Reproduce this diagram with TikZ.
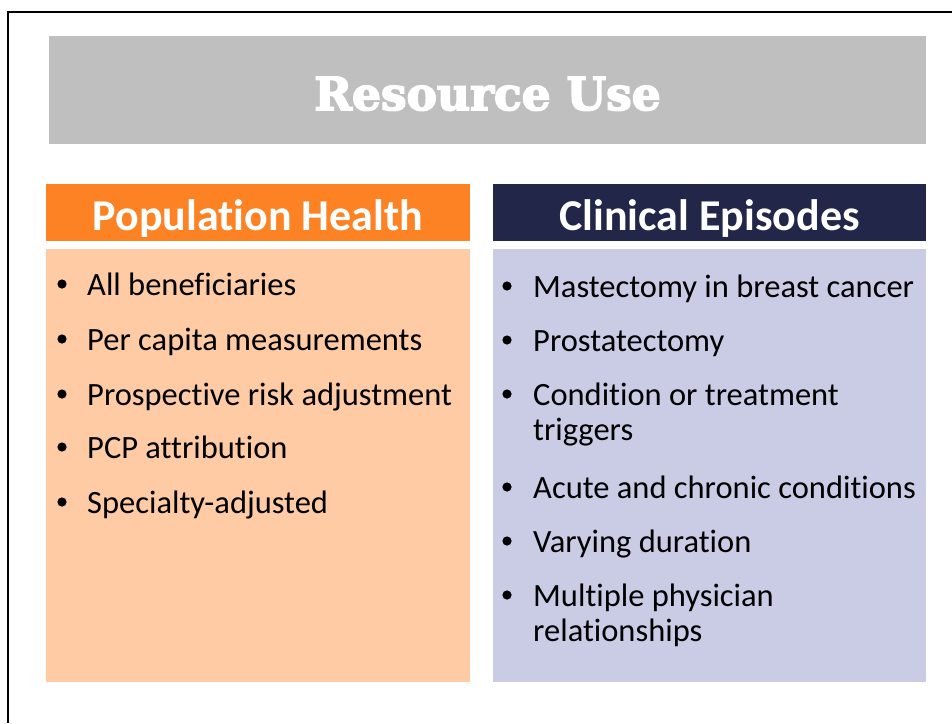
\documentclass[tikz,border=0pt]{standalone}
\usepackage{fontspec}
\setmainfont{Carlito}[Ligatures=NoCommon]
\newfontfamily\slabfont{DejaVu Serif}
\usetikzlibrary{positioning}
\definecolor{titlegray}{HTML}{BFBFBF}
\definecolor{popdark}{HTML}{FD8223}
\definecolor{poplight}{HTML}{FECBA4}
\definecolor{epidark}{HTML}{222648}
\definecolor{epilight}{HTML}{C9CCE4}
\newcommand{\heavytext}[1]{\special{pdf:literal direct 1.6 w 2 Tr}#1\special{pdf:literal direct 0 Tr}}
\tikzset{panel/.style={rectangle, inner sep=0pt, anchor=north west}}
\tikzset{head/.style={anchor=base, text=white, inner sep=0pt, font=\bfseries\fontsize{44}{48}\selectfont}}
\tikzset{item/.style={anchor=base west, inner sep=0pt, font=\fontsize{32.5}{36}\selectfont}}

\begin{document}
\begin{tikzpicture}[x=1pt,y=-1pt]
    \useasboundingbox (0,0) rectangle (952,723);
    \fill[white] (0,0) rectangle (952,723);
    \draw[line width=2.6pt] (8,723) |- (952,12);
    % title bar
    \node[panel, fill=titlegray, minimum width=877pt, minimum height=108pt] (title) at (49,36) {};
    \node[anchor=base, text=white, inner sep=0pt, font=\slabfont\bfseries\fontsize{45.5}{50}\selectfont] (titletext) at (487.5,110) {\heavytext{Resource Use}};
    % two columns
    \node[panel, fill=popdark, minimum width=424pt, minimum height=57pt] (pophead) at (46,184) {};
    \node[panel, fill=poplight, minimum width=424pt, minimum height=433pt] (popbody) at (46,249) {};
    \node[panel, fill=epidark, minimum width=433pt, minimum height=57pt] (epihead) at (493,184) {};
    \node[panel, fill=epilight, minimum width=433pt, minimum height=433pt] (epibody) at (493,249) {};
    \node[head] (poptext) at (258,230) {Population Health};
    \node[head] (epitext) at (709.5,230) {Clinical Episodes};
    \foreach \y/\lab/\tx in {
      295/a/All beneficiaries,
      350/b/Per capita measurements,
      405/c/Prospective risk adjustment,
      458/d/PCP attribution,
      513/e/Specialty-adjusted%
    } {
      \fill (62,{\y-11}) circle (4.6pt);
      \node[item] (pop\lab) at (87,\y) {\tx};
    }
    \foreach \y/\lab/\tx/\dot in {
      297/a/Mastectomy in breast cancer/1,
      351/b/Prostatectomy/1,
      405/c/Condition or treatment/1,
      440/d/triggers/0,
      498/e/Acute and chronic conditions/1,
      552/f/Varying duration/1,
      606/g/Multiple physician/1,
      641/h/relationships/0%
    } {
      \ifnum\dot=1 \fill (507,{\y-11}) circle (4.6pt); \fi
      \node[item] (epi\lab) at (533,\y) {\tx};
    }
\end{tikzpicture}
\end{document}
